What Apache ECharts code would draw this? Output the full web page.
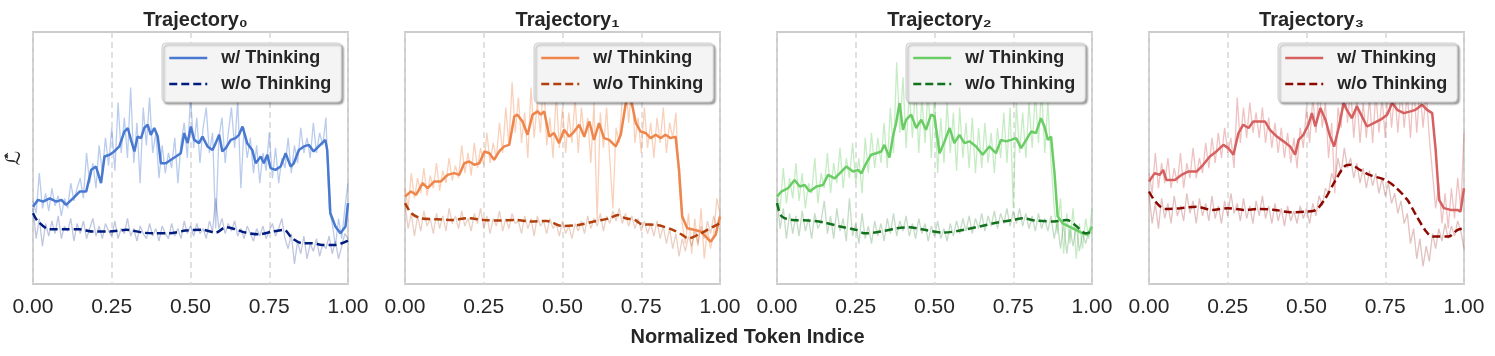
<!DOCTYPE html>
<html><head><meta charset="utf-8">
<script src="https://cdn.jsdelivr.net/npm/echarts@6/dist/echarts.min.js"></script>
<style>html,body{margin:0;padding:0;background:#fff}#c{width:1495px;height:356px}</style>
</head><body><div id="c"></div>
<script>
// ---------------- DATA ----------------
const titles = ['Trajectory\u2080', 'Trajectory\u2081', 'Trajectory\u2082', 'Trajectory\u2083'];
const legendNames = ['w/ Thinking', 'w/o Thinking'];
const xTickValues = [0, 0.25, 0.5, 0.75, 1];
const xAxisTitle = 'Normalized Token Indice';
const yAxisTitle = '\u2112\u0302';

// raw (unsmoothed) per-token values, evenly spaced over normalized token index 0..1
const rawW0 = [33,28,44,30,36,29,38,31,35,27,34,30,40,33,38,42,34,52,40,48,38,55,44,58,47,62,45,72,52,66,50,78,48,64,40,70,55,74,52,60,42,55,44,52,46,58,40,56,64,50,75,54,66,48,62,70,52,60,22,58,66,48,60,70,54,73,38,62,50,58,44,55,40,52,45,60,42,54,40,50,46,58,44,55,48,62,52,58,50,64,52,60,55,66,30,24,15,26,18,30,40];
const rawWo0 = [30,18,26,15,24,19,25,20,27,18,23,21,26,17,24,20,25,18,22,26,19,23,18,24,21,19,25,18,22,20,26,19,22,17,23,20,18,24,19,22,17,23,20,18,24,19,22,18,25,20,23,19,24,20,22,18,25,21,34,22,26,20,24,21,25,19,22,18,23,20,17,22,19,23,18,21,24,19,22,26,18,14,20,8,17,12,19,10,16,13,18,11,16,14,19,12,17,10,15,20,18];
const rawW1 = [38,30,44,34,42,36,46,35,43,38,48,37,45,40,50,41,47,42,55,44,52,43,56,46,54,47,60,48,56,50,64,52,70,55,80,60,74,56,68,50,78,58,72,60,82,55,66,50,76,54,70,52,68,56,74,52,70,58,66,48,72,25,68,54,70,50,30,62,56,74,82,64,78,56,66,52,70,54,64,50,66,56,70,52,64,58,68,40,24,16,28,12,26,15,30,10,22,14,20,34,28];
const rawWo1 = [32,22,28,19,27,21,29,23,26,20,28,22,27,21,30,24,27,22,29,23,26,21,28,24,30,22,27,20,26,23,29,21,26,22,28,24,25,20,27,22,26,19,27,23,25,20,26,22,24,19,25,20,23,18,24,21,25,20,27,22,26,23,28,21,27,24,29,25,30,24,28,23,27,22,26,21,25,20,24,19,25,18,23,16,22,14,20,11,18,13,19,15,21,16,23,18,25,20,27,22,28];
const rawW2 = [36,30,46,32,42,34,48,33,44,30,40,36,50,32,44,38,52,36,48,40,54,38,50,42,56,40,50,36,58,44,60,46,58,48,64,46,70,52,88,60,82,54,76,58,80,52,74,56,78,50,76,44,66,48,72,52,68,45,70,50,64,46,66,44,62,46,64,48,60,44,62,50,68,48,70,30,72,52,68,50,72,54,76,56,78,52,72,48,30,20,34,12,28,16,30,10,24,14,26,18,30];
const rawWo2 = [34,22,30,18,28,20,27,19,29,21,26,18,28,22,25,33,20,27,18,30,21,26,17,34,19,24,16,28,18,23,16,25,19,24,17,26,20,28,19,25,21,27,19,24,18,26,20,24,17,23,19,25,18,22,17,24,19,25,20,26,21,27,20,26,22,28,21,27,23,29,22,28,24,30,23,29,24,30,23,28,22,27,21,28,22,26,21,27,18,25,14,24,12,22,15,23,13,20,16,21,20];
const rawW3 = [44,36,52,38,48,40,50,38,46,40,52,38,48,42,54,42,50,44,56,46,58,48,60,50,62,52,58,46,74,56,70,58,72,60,68,58,70,56,66,54,64,52,62,50,60,48,58,46,62,54,70,56,74,60,78,62,72,50,64,36,70,62,84,64,78,58,74,56,72,58,74,56,76,60,74,58,80,62,76,60,78,62,76,58,80,60,78,62,76,58,44,30,40,24,36,22,38,26,42,30,60];
const rawWo3 = [36,24,32,22,34,26,32,24,35,27,31,25,36,28,33,24,34,27,32,25,35,26,31,24,33,27,36,28,32,25,34,26,31,24,33,27,35,26,31,24,32,25,30,23,31,25,29,24,31,26,30,24,32,27,35,31,38,36,44,40,50,44,54,46,50,42,48,40,46,38,45,39,44,36,42,35,40,32,36,28,33,24,28,16,22,10,18,7,15,9,20,14,22,17,24,18,23,19,25,21,14];

// smoothed (moving-average) curves: [normalized token index, value]
const smoothW0 = [[0,30.7],[.016,33.4],[.032,32.7],[.053,34.0],[.074,32.7],[.090,33.4],[.105,31.4],[.127,34.0],[.148,36.7],[.169,36.7],[.185,45.3],[.200,46.6],[.216,40.0],[.227,50.6],[.243,51.3],[.258,52.6],[.274,54.6],[.290,60.5],[.301,61.9],[.311,57.2],[.322,52.6],[.332,58.5],[.343,57.9],[.353,61.9],[.364,63.2],[.374,59.2],[.385,61.9],[.396,58.5],[.406,47.9],[.422,47.9],[.438,49.3],[.454,50.6],[.469,51.9],[.480,59.9],[.491,55.9],[.501,62.5],[.512,57.2],[.527,55.9],[.538,58.5],[.554,54.6],[.570,53.2],[.580,55.9],[.591,59.2],[.601,52.6],[.612,53.9],[.628,57.2],[.643,57.9],[.654,59.2],[.665,62.5],[.680,55.9],[.696,53.2],[.707,47.9],[.723,50.6],[.733,47.9],[.744,51.3],[.754,46.0],[.770,45.3],[.786,46.6],[.802,51.9],[.818,46.6],[.828,47.9],[.844,53.2],[.860,54.6],[.876,55.2],[.891,52.6],[.907,54.6],[.928,57.2],[.934,53.2],[.944,28.1],[.960,22.8],[.976,20.1],[.992,22.8],[1,32.1]];
const smoothWo0 = [[0,28.1],[.016,24.8],[.053,21.7],[.105,21.7],[.148,21.7],[.190,20.8],[.243,20.8],[.296,21.5],[.348,20.4],[.380,20.1],[.433,20.1],[.485,21.2],[.538,21.5],[.580,20.4],[.612,22.5],[.643,21.7],[.675,20.4],[.717,19.7],[.760,20.8],[.797,21.5],[.823,18.1],[.855,16.2],[.886,16.2],[.918,15.5],[.960,15.5],[1,17.2]];
const smoothW1 = [[0,34.7],[.019,36.7],[.035,35.4],[.056,40.0],[.072,38.0],[.093,40.7],[.114,40.7],[.135,43.3],[.156,44.0],[.172,43.3],[.188,47.9],[.204,48.6],[.220,47.3],[.236,47.9],[.252,52.6],[.268,51.9],[.283,49.3],[.299,52.6],[.315,54.6],[.331,55.2],[.347,66.5],[.357,67.2],[.373,64.5],[.389,59.2],[.405,67.2],[.421,68.5],[.431,67.2],[.442,68.5],[.458,58.5],[.473,59.9],[.489,55.9],[.505,61.2],[.521,58.5],[.537,60.5],[.553,63.2],[.569,58.5],[.585,64.5],[.600,57.2],[.616,63.8],[.632,57.9],[.648,57.2],[.669,54.6],[.685,59.2],[.701,71.8],[.711,75.8],[.722,70.5],[.733,63.8],[.748,60.5],[.764,59.9],[.780,57.9],[.796,59.2],[.812,57.9],[.827,59.2],[.843,57.9],[.859,58.5],[.870,45.3],[.880,26.8],[.896,22.1],[.917,21.5],[.939,20.8],[.955,18.8],[.970,16.8],[.986,19.5],[1,26.8]];
const smoothWo1 = [[0,32.1],[.02,28.1],[.05,26.1],[.1,25.7],[.15,25.4],[.2,26.1],[.25,25.4],[.3,25.2],[.35,25.4],[.4,24.8],[.45,25.0],[.5,23.0],[.55,23.4],[.6,24.8],[.65,26.1],[.675,27.4],[.7,26.1],[.73,25.4],[.75,23.8],[.8,23.4],[.85,21.5],[.88,19.5],[.9,18.1],[.93,19.5],[.96,21.5],[1,24.1]];
const smoothW2 = [[0,34.7],[.014,36.7],[.035,38.0],[.056,41.3],[.072,38.7],[.088,39.3],[.104,36.7],[.125,38.7],[.146,39.3],[.162,43.3],[.183,41.9],[.199,43.9],[.220,46.6],[.241,44.6],[.257,45.3],[.268,43.9],[.283,47.9],[.299,51.3],[.315,51.9],[.331,52.6],[.341,55.2],[.357,50.2],[.368,58.5],[.378,63.8],[.389,71.8],[.400,61.2],[.410,65.2],[.426,67.2],[.442,61.9],[.458,65.2],[.473,61.2],[.489,67.2],[.500,66.5],[.516,51.9],[.532,56.6],[.548,61.9],[.563,55.9],[.579,59.2],[.595,55.9],[.611,56.6],[.632,54.6],[.653,51.3],[.674,54.6],[.695,51.9],[.711,57.2],[.727,56.6],[.743,57.2],[.759,57.9],[.775,53.9],[.791,57.2],[.807,60.5],[.822,59.9],[.838,65.8],[.849,62.5],[.860,57.2],[.870,58.5],[.881,43.9],[.891,26.8],[.907,24.1],[.928,22.8],[.949,21.5],[.970,20.1],[.986,19.5],[1,22.8]];
const smoothWo2 = [[0,32.1],[.015,26.8],[.05,25.4],[.1,25.2],[.15,24.4],[.2,22.8],[.25,21.5],[.28,20.1],[.33,20.8],[.38,22.1],[.42,22.5],[.46,21.7],[.53,20.4],[.6,21.7],[.65,23.0],[.7,24.4],[.75,25.4],[.78,26.1],[.82,25.2],[.88,24.8],[.92,25.4],[.95,23.0],[.98,20.1],[1,20.8]];
const smoothW3 = [[0,40.7],[.018,44.0],[.034,43.3],[.045,45.3],[.055,41.3],[.082,41.3],[.103,43.3],[.124,44.6],[.151,44.6],[.172,47.3],[.193,50.6],[.214,52.6],[.236,55.2],[.252,53.9],[.268,51.3],[.284,59.9],[.299,63.2],[.316,61.9],[.331,64.5],[.352,64.5],[.368,64.5],[.384,61.2],[.406,58.5],[.427,56.6],[.448,54.6],[.464,51.3],[.475,57.2],[.490,59.2],[.506,63.2],[.517,67.8],[.528,62.5],[.544,69.8],[.560,65.2],[.575,58.5],[.588,54.6],[.602,61.9],[.618,71.8],[.628,69.1],[.644,65.8],[.660,70.5],[.676,66.5],[.692,62.5],[.713,63.8],[.735,65.2],[.756,67.2],[.772,71.8],[.788,69.1],[.809,67.8],[.830,68.5],[.846,69.1],[.867,71.1],[.883,69.1],[.899,67.8],[.910,53.2],[.921,33.4],[.936,30.1],[.958,29.4],[.979,29.4],[.989,28.7],[1,38.0]];
const smoothWo3 = [[0,36.7],[.02,32.7],[.05,29.8],[.1,30.1],[.15,30.7],[.2,29.4],[.25,30.1],[.3,29.4],[.35,29.8],[.4,29.4],[.45,28.5],[.5,28.7],[.53,29.4],[.56,34.0],[.59,40.7],[.62,46.6],[.64,47.3],[.67,45.3],[.7,43.3],[.75,41.3],[.78,38.7],[.82,33.4],[.85,26.8],[.88,20.8],[.9,18.8],[.95,18.8],[.98,21.5],[1,22.1]];

// ---------------- STYLE / LAYOUT ----------------
const rawW = [rawW0, rawW1, rawW2, rawW3];
const rawWo = [rawWo0, rawWo1, rawWo2, rawWo3];
const smW = [smoothW0, smoothW1, smoothW2, smoothW3];
const smWo = [smoothWo0, smoothWo1, smoothWo2, smoothWo3];
const muted = ['#4878d0', '#ee854a', '#6acc64', '#d65f5f'];
const dark = ['#001c7f', '#b1400d', '#12711c', '#8c0800'];
const FONT = '"Liberation Sans", Arial, sans-serif';
const TXT = '#262626';
const lefts = [33, 405, 777, 1149];
const W = 315, TOP = 32, H = 252;

const grid = [], xAxis = [], yAxis = [], series = [], legend = [], title = [];
for (let p = 0; p < 4; p++) {
  grid.push({left: lefts[p], top: TOP, width: W, height: H, show: true,
    borderColor: '#cccccc', borderWidth: 2, backgroundColor: 'transparent', containLabel: false});
  xAxis.push({type: 'value', gridIndex: p, min: xTickValues[0], max: xTickValues[xTickValues.length - 1],
    interval: xTickValues[1] - xTickValues[0],
    axisLine: {show: false}, axisTick: {show: false},
    axisLabel: {show: true, fontSize: 21, color: TXT, fontFamily: FONT, margin: 13,
      formatter: v => v.toFixed(2)},
    splitLine: {show: true, lineStyle: {color: '#d6d6d6', width: 1.5, type: [6, 4]}}});
  yAxis.push({type: 'value', gridIndex: p, min: 0, max: 100,
    axisLine: {show: false}, axisTick: {show: false}, axisLabel: {show: false}, splitLine: {show: false}});
  const n1 = rawW[p].length, n2 = rawWo[p].length;
  series.push({type: 'line', name: 'rawW' + p, xAxisIndex: p, yAxisIndex: p, silent: true,
    symbol: 'none', data: rawW[p].map((v, i) => [i / (n1 - 1), v]),
    lineStyle: {color: muted[p], width: 1.3, opacity: 0.38}, z: 2});
  series.push({type: 'line', name: 'rawWo' + p, xAxisIndex: p, yAxisIndex: p, silent: true,
    symbol: 'none', data: rawWo[p].map((v, i) => [i / (n2 - 1), v]),
    lineStyle: {color: dark[p], width: 1.3, opacity: 0.25}, z: 2});
  series.push({type: 'line', name: legendNames[0] + '|' + p, xAxisIndex: p, yAxisIndex: p,
    symbol: 'none', data: smW[p], color: muted[p],
    lineStyle: {color: muted[p], width: 2.5}, z: 3});
  series.push({type: 'line', name: legendNames[1] + '|' + p, xAxisIndex: p, yAxisIndex: p,
    symbol: 'none', smooth: 0.3, data: smWo[p], color: dark[p],
    lineStyle: {color: dark[p], width: 2.5, type: [8, 4]}, z: 4});
  legend.push({orient: 'vertical', left: lefts[p] + 129, top: 43,
    data: legendNames.map(n => n + '|' + p), formatter: n => n.split('|')[0],
    selectedMode: false, itemWidth: 38, itemHeight: 14, itemGap: 8, padding: [6, 10, 9, 6],
    backgroundColor: '#f4f4f4', borderColor: '#cfcfcf', borderWidth: 1, borderRadius: 4,
    shadowColor: 'rgba(0,0,0,0.35)', shadowBlur: 2, shadowOffsetX: 2, shadowOffsetY: 2,
    itemStyle: {opacity: 0}, lineStyle: {width: 2.5},
    textStyle: {fontSize: 18, fontWeight: 'bold', color: TXT, fontFamily: FONT, padding: [0, 0, 0, 9]}});
  title.push({text: titles[p], left: lefts[p] + W / 2, top: 5, textAlign: 'center',
    textStyle: {fontSize: 20, fontWeight: 'bold', color: TXT, fontFamily: FONT}});
}

const chart = echarts.init(document.getElementById('c'), null, {renderer: 'canvas'});
chart.setOption({
  animation: false,
  backgroundColor: '#ffffff',
  title, grid, xAxis, yAxis, series, legend,
  graphic: [
    {type: 'text', left: 'center', top: 327,
      style: {text: xAxisTitle, fontSize: 20, fontWeight: 'bold', fill: TXT, fontFamily: FONT}},
    {type: 'text', x: 15, y: 158, rotation: Math.PI / 2,
      style: {text: yAxisTitle, fontSize: 20, fill: TXT, fontFamily: '"DejaVu Sans", sans-serif',
        align: 'center', verticalAlign: 'middle'}}
  ]
});
</script></body></html>
